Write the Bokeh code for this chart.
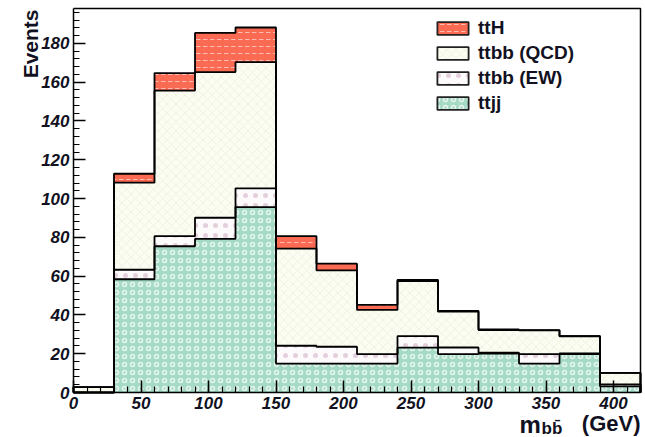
import math
from bokeh.plotting import figure
from bokeh.models import (SingleIntervalTicker, Legend, LegendItem, Label, Range1d)
from bokeh.embed import file_html
from bokeh.resources import INLINE

# ---- data (events per 30 GeV bin of m_bb) ----
bin_edges = [0, 30, 60, 90, 120, 150, 180, 210, 240, 270, 300, 330, 360, 390, 420]
ttjj     = [0.0, 58.4, 75.4, 79.2, 95.6, 14.9, 14.9, 14.9, 23.1, 19.8, 20.0, 14.9, 19.8, 3.2]
ttbb_ew  = [0.0, 4.9, 5.2, 10.9, 9.7, 9.2, 8.7, 4.9, 6.0, 3.4, 0.5, 4.9, 0.3, 1.0]
ttbb_qcd = [2.8, 44.9, 75.1, 75.1, 65.1, 50.1, 39.4, 22.8, 28.4, 18.5, 11.7, 12.2, 8.9, 5.9]
tth      = [0.0, 4.6, 9.0, 20.2, 17.8, 6.4, 3.4, 2.6, 0.6, 0.4, 0.3, 0.2, 0.1, 0.0]
y_max = 198

names = ["ttjj", "ttbb (EW)", "ttbb (QCD)", "ttH"]
series = [ttjj, ttbb_ew, ttbb_qcd, tth]
styles = {
    "ttH":        dict(fill_color="#fb6b53", hatch_pattern="horizontal_dash", hatch_color="white",
                       hatch_alpha=0.55, hatch_scale=7, hatch_weight=1),
    "ttbb (QCD)": dict(fill_color="#fbfcf2", hatch_pattern="diagonal_cross", hatch_color="#f0f2e2",
                       hatch_alpha=1.0, hatch_scale=9, hatch_weight=1),
    "ttbb (EW)":  dict(fill_color="#fdfafc", hatch_pattern="dot", hatch_color="#e4cfdc",
                       hatch_alpha=1.0, hatch_scale=10, hatch_weight=2),
    "ttjj":       dict(fill_color="#a5dac5", hatch_pattern="ring", hatch_color="#e6f5ef",
                       hatch_alpha=1.0, hatch_scale=8, hatch_weight=1.5),
}

# cumulative stack
cum = []
running = [0.0] * len(ttjj)
for s in series:
    running = [a + b for a, b in zip(running, s)]
    cum.append(list(running))

FONT = "Liberation Sans"
TXT = "#111122"

# ---- layout geometry (canvas pixels) ----
W, H = 645, 437
PX_X0, PX_X1 = 73, 640      # pixel of x=0 and x=420
PX_Y1, PX_Y0 = 8, 392       # pixel of y=y_max and y=0
BR, BT = 3, 6               # right / top borders
x_lo, x_hi = bin_edges[0], bin_edges[-1]
xs_ = (PX_X1 - PX_X0) / (x_hi - x_lo)
ys_ = (PX_Y0 - PX_Y1) / y_max
x_range = Range1d(x_lo - PX_X0 / xs_, x_hi + (W - BR - PX_X1) / xs_)
y_range = Range1d(-(H - PX_Y0) / ys_, y_max + (PX_Y1 - BT) / ys_)

p = figure(width=W, height=H, output_backend="svg", toolbar_location=None,
           x_range=x_range, y_range=y_range,
           min_border_left=0, min_border_right=BR, min_border_top=BT, min_border_bottom=0)
p.xgrid.visible = False
p.ygrid.visible = False
p.outline_line_color = None
p.background_fill_color = "white"


def step_outline(top):
    xs, ys = [bin_edges[0]], [0]
    for i, v in enumerate(top):
        xs += [bin_edges[i], bin_edges[i + 1]]
        ys += [v, v]
    xs.append(bin_edges[-1])
    ys.append(0)
    return xs, ys


layers = list(reversed(list(zip(names, cum))))
for name, top in layers:
    xs, ys = step_outline(top)
    p.patch(xs, ys, line_color=None, **styles[name])
for name, top in layers:
    xs, ys = step_outline(top)
    p.line(xs, ys, line_color="black", line_width=1.8)

# frame box (top and right edges)
p.line([x_lo, x_hi, x_hi], [y_max, y_max, 0], line_color="black", line_width=1.5)

# legend proxies (placed outside the visible range)
legend_items = []
for name in ["ttH", "ttbb (QCD)", "ttbb (EW)", "ttjj"]:
    r = p.quad(left=[-400], right=[-390], top=[10], bottom=[0], line_color="#222222",
               line_width=1.8, **styles[name])
    legend_items.append(LegendItem(label=name, renderers=[r]))
legend = Legend(items=legend_items, location=(433, H - 114), padding=0, margin=0,
                glyph_width=39, glyph_height=16, label_height=16, spacing=3,
                label_standoff=6, label_text_font=FONT, label_text_font_style="bold",
                label_text_font_size="19px", label_text_color=TXT,
                background_fill_alpha=0, border_line_alpha=0)
p.add_layout(legend)

# axes drawn at fixed data locations
p.xaxis.ticker = SingleIntervalTicker(interval=50, num_minor_ticks=5)
p.yaxis.ticker = SingleIntervalTicker(interval=20, num_minor_ticks=5)
p.xaxis.fixed_location = 0
p.yaxis.fixed_location = 0
p.xaxis.bounds = (x_lo, x_hi)
p.yaxis.bounds = (0, y_max)
for ax in (p.xaxis[0], p.yaxis[0]):
    ax.major_tick_in = 12
    ax.major_tick_out = 0
    ax.minor_tick_in = 6
    ax.minor_tick_out = 0
    ax.axis_line_width = 1.5
    ax.major_tick_line_width = 1.5
    ax.minor_tick_line_width = 1.2
    ax.major_label_text_font = FONT
    ax.major_label_text_font_style = "bold italic"
    ax.major_label_text_font_size = "17px"
    ax.major_label_text_color = TXT
p.xaxis.major_label_standoff = 4
p.yaxis.major_label_standoff = 4

# axis titles (screen units relative to the frame's bottom-left = canvas bottom-left)
p.add_layout(Label(x=30, y=H - 9, x_units="screen", y_units="screen", text="Events",
                   angle=math.pi / 2, text_align="right", text_baseline="middle",
                   text_font=FONT, text_font_style="bold", text_font_size="21px",
                   text_color=TXT))
p.add_layout(Label(x=519, y=H - 424, x_units="screen", y_units="screen", text="m",
                   text_align="left", text_baseline="alphabetic",
                   text_font=FONT, text_font_style="bold", text_font_size="24px",
                   text_color=TXT))
p.add_layout(Label(x=541, y=H - 428, x_units="screen", y_units="screen", text="bb\u0304",
                   text_align="left", text_baseline="alphabetic",
                   text_font=FONT, text_font_style="bold", text_font_size="17px",
                   text_color=TXT))
p.add_layout(Label(x=640, y=H - 423, x_units="screen", y_units="screen", text="(GeV)",
                   text_align="right", text_baseline="alphabetic",
                   text_font=FONT, text_font_style="bold", text_font_size="22px",
                   text_color=TXT))

open("out.html", "w").write(file_html(p, INLINE))
